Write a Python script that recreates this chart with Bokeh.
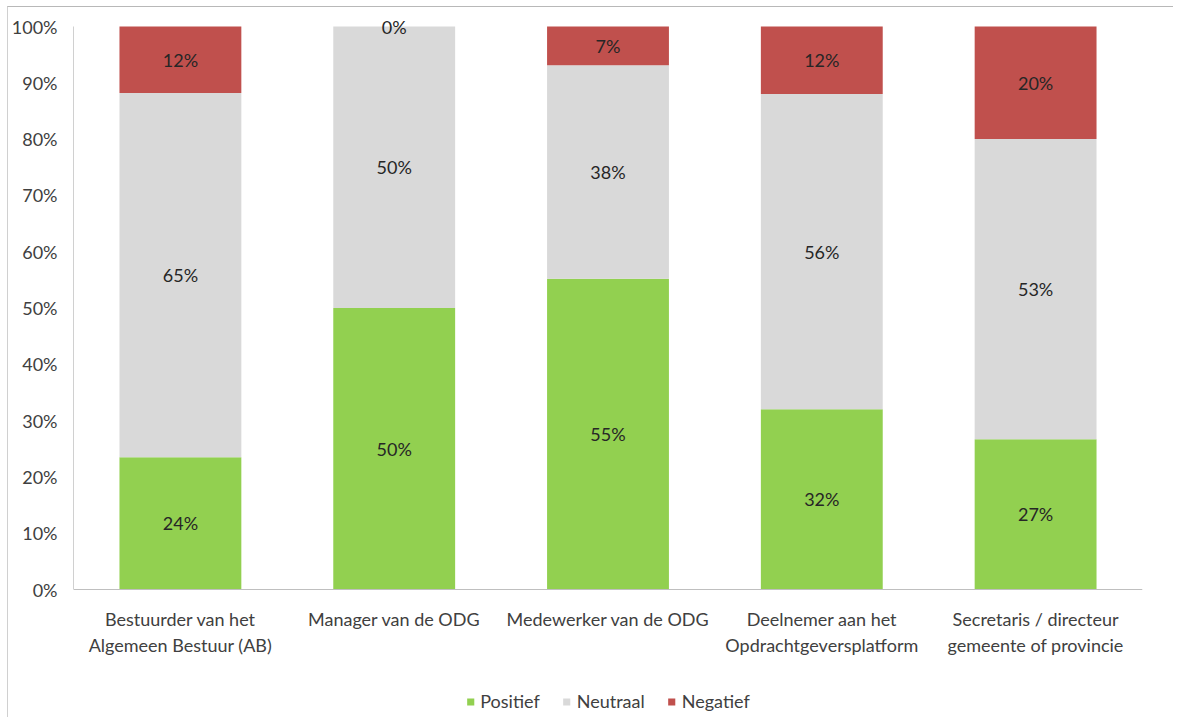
from bokeh.plotting import figure
from bokeh.models import ColumnDataSource, Legend, LegendItem, PrintfTickFormatter, FixedTicker
from bokeh.embed import file_html
from bokeh.resources import INLINE
from bokeh.core.properties import value

categories = [
    "Bestuurder van het\nAlgemeen Bestuur (AB)",
    "Manager van de ODG",
    "Medewerker van de ODG",
    "Deelnemer aan het\nOpdrachtgeversplatform",
    "Secretaris / directeur\ngemeente of provincie",
]
positief = [23.5, 50.0, 55.2, 32.0, 26.7]
neutraal = [64.7, 50.0, 37.9, 56.0, 53.3]
negatief = [11.8, 0.0, 6.9, 12.0, 20.0]
series = ["Positief", "Neutraal", "Negatief"]
colors = ["#92D050", "#D9D9D9", "#C0504D"]
yticks = [0, 10, 20, 30, 40, 50, 60, 70, 80, 90, 100]

FONT = "Lato"
FS = "18px"

src = ColumnDataSource(dict(cat=categories, Positief=positief, Neutraal=neutraal, Negatief=negatief))

# frame spans y=8..714 px; 0% sits at 589 px and 100% at 26 px
p = figure(x_range=categories, y_range=(-22.2, 103.2), width=1166, height=711,
           output_backend="svg", toolbar_location=None, tools="",
           min_border_left=64, min_border_top=1, min_border_right=32, min_border_bottom=4)
p.styles = {"margin-top": "6px", "margin-left": "7px",
            "border-top": "1px solid #B8B8B8", "border-left": "1px solid #D0D0D0"}

renderers = p.vbar_stack(series, x="cat", width=0.57, source=src, color=colors, line_color=None)

# segment labels
lab_x, lab_y, lab_t = [], [], []
for i, c in enumerate(categories):
    lo = 0.0
    for v in (positief[i], neutraal[i], negatief[i]):
        lab_x.append(c)
        lab_y.append(lo + v / 2)
        lab_t.append(f"{round(v):.0f}%")
        lo += v
lsrc = ColumnDataSource(dict(x=lab_x, y=lab_y, t=lab_t))
p.text(x="x", y="y", text="t", source=lsrc, text_align="center", text_baseline="middle",
       text_font=value(FONT), text_font_size=FS, text_color="#262626")

p.xgrid.visible = False
p.ygrid.visible = False
p.outline_line_color = None

p.yaxis.ticker = FixedTicker(ticks=yticks)
p.yaxis.bounds = (0, 100)
p.yaxis.formatter = PrintfTickFormatter(format="%d%%")
p.yaxis.major_tick_line_color = None
p.yaxis.minor_tick_line_color = None
p.yaxis.axis_line_color = "#D0D0D0"
p.yaxis.major_label_standoff = 10
p.xaxis.fixed_location = 0
p.xaxis.major_tick_line_color = None
p.xaxis.axis_line_color = "#BFBFBF"
p.xaxis.major_label_standoff = 12
for ax in (p.xaxis, p.yaxis):
    ax.major_label_text_font = FONT
    ax.major_label_text_font_size = FS
    ax.major_label_text_color = "#404040"
p.x_range.range_padding = 0.0

legend = Legend(items=[LegendItem(label=s, renderers=[r]) for s, r in zip(series, renderers)],
                orientation="horizontal", location="bottom_center",
                label_text_font=FONT, label_text_font_size=FS, label_text_color="#404040",
                glyph_width=9, glyph_height=9, spacing=22, label_standoff=6,
                padding=3, margin=2,
                border_line_color=None, background_fill_alpha=0)
p.add_layout(legend, "center")

open("out.html", "w").write(file_html(p, INLINE))
